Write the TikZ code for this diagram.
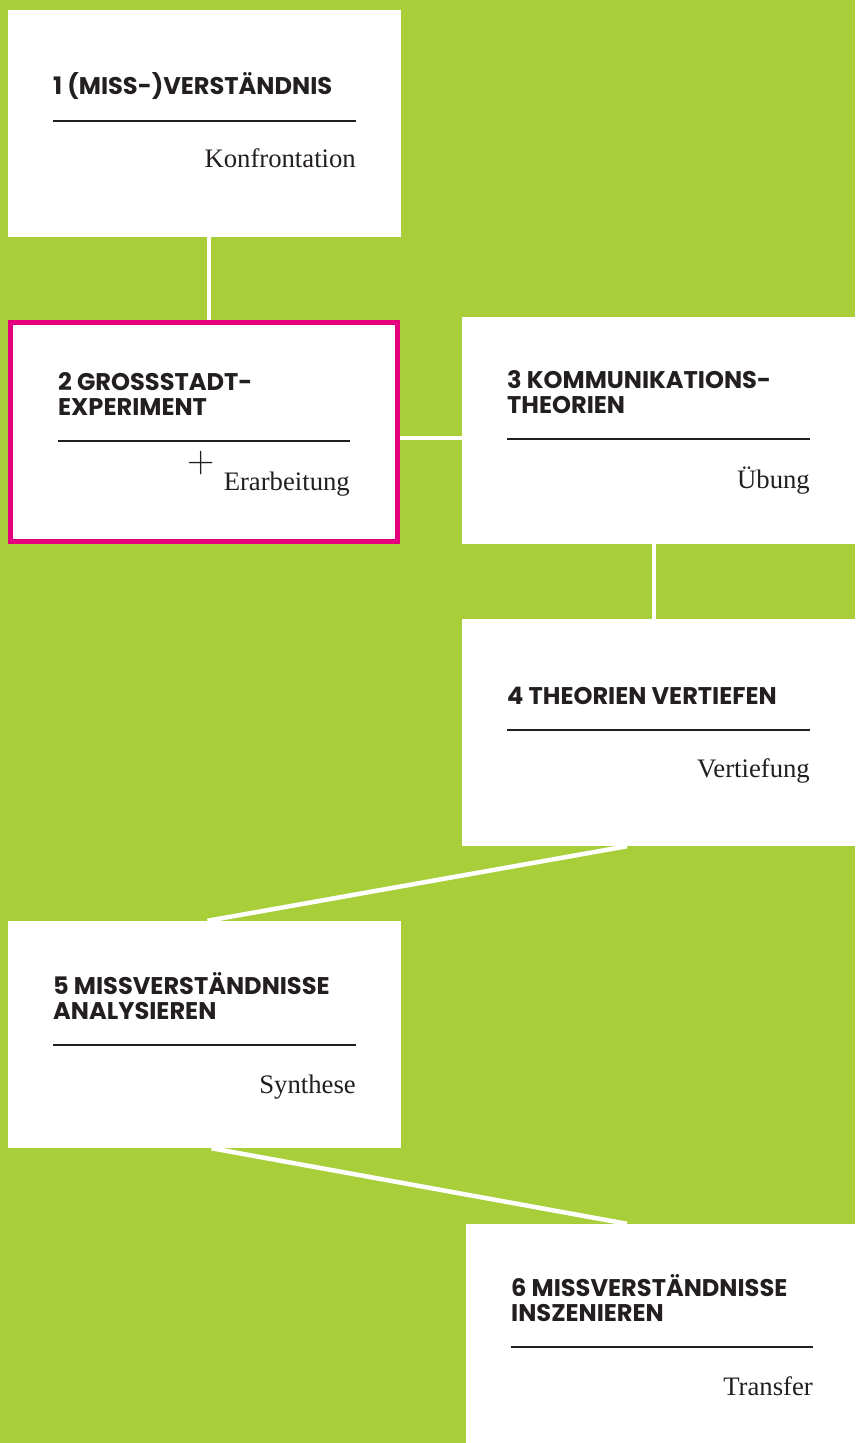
\documentclass[tikz,border=0pt]{standalone}
\usepackage{fontspec}
\newfontfamily\headfont{Poppins}
\newfontfamily\subfont{Liberation Serif}
\usetikzlibrary{calc,backgrounds}
\definecolor{leaf}{HTML}{A8CF3A}
\definecolor{hot}{HTML}{E6007E}
\definecolor{ink}{HTML}{231F20}

\begin{document}
\begin{tikzpicture}[x=1bp,y=-1bp]

    \tikzset{BX/.style={fill=white,draw=none,inner sep=0pt,minimum width=393bp,minimum height=227bp}}
    \tikzset{HD/.style={anchor=base west,align=left,inner sep=0pt,text=ink,font=\headfont\bfseries\fontsize{24.2}{24.5}\selectfont}}
    \tikzset{SB/.style={anchor=base east,inner sep=0pt,text=ink,font=\subfont\fontsize{26.8}{28}\selectfont}}
    \tikzset{RL/.style={draw=ink,line width=1.5bp}}
    \tikzset{LK/.style={draw=white,line width=4.5bp}}

    \useasboundingbox (0,0) rectangle (855,1443);

    % stages
    \node (b1) [BX] at (204.5,123.5) {};
    \node (b2) [BX,draw=hot,line width=5bp,minimum width=387bp,minimum height=219bp] at (204,432) {};
    \node (b3) [BX] at (658.5,430) {};
    \node (b4) [BX] at (658.5,732.5) {};
    \node (b5) [BX] at (204.5,1034.5) {};
    \node (b6) [BX,minimum width=392bp] at (662,1337.5) {};

    % headings (anchored on the last line)
    \node (h1) [HD] at (53,95) {1 (MISS-)VERSTÄNDNIS};
    \node (h2) [HD] at (58,415) {2 GROSSSTADT-\\EXPERIMENT};
    \node (h3) [HD] at (507,413) {3 KOMMUNIKATIONS-\\THEORIEN};
    \node (h4) [HD] at (507,704) {4 THEORIEN VERTIEFEN};
    \node (h5) [HD] at (53,1019) {5 MISSVERSTÄNDNISSE\\ANALYSIEREN};
    \node (h6) [HD] at (511,1321) {6 MISSVERSTÄNDNISSE\\INSZENIEREN};

    % rules
    \path[RL] (53,121) -- (356,121);
    \path[RL] (58,441) -- (350,441);
    \path[RL] (507,439) -- (810,439);
    \path[RL] (507,730) -- (810,730);
    \path[RL] (53,1045) -- (356,1045);
    \path[RL] (511,1347) -- (813,1347);

    % subtitles
    \node (s1) [SB] at (356,168) {Konfrontation};
    \node (s2) [SB] at (350,490) {Erarbeitung};
    \node (s3) [SB] at (810,488) {Übung};
    \node (s4) [SB] at (810,777) {Vertiefung};
    \node (s5) [SB] at (356,1093) {Synthese};
    \node (s6) [SB] at (813,1395) {Transfer};
    \node (plus) [inner sep=0pt,text=ink,font=\fontsize{38}{38}\selectfont] at (201,463) {+};

    \begin{scope}[on background layer]
        \fill[leaf] (0,0) rectangle (855,1443);
        \path[LK] ([xshift=4.5bp]b1.south) -- ([xshift=4.5bp]b1.south |- b2.north);
        \path[LK] ([yshift=-6bp]b2.east) -- ([yshift=-6bp]b2.east -| b3.west);
        \path[LK] ([xshift=-4.5bp]b3.south) -- ([xshift=-4.5bp]b3.south |- b4.north);
        \path[LK] ([xshift=-31.5bp]b4.south) -- ([xshift=3bp]b5.north);
        \path[LK] ([xshift=7bp]b5.south) -- ([xshift=-35bp]b6.north);
    \end{scope}
\end{tikzpicture}
\end{document}
